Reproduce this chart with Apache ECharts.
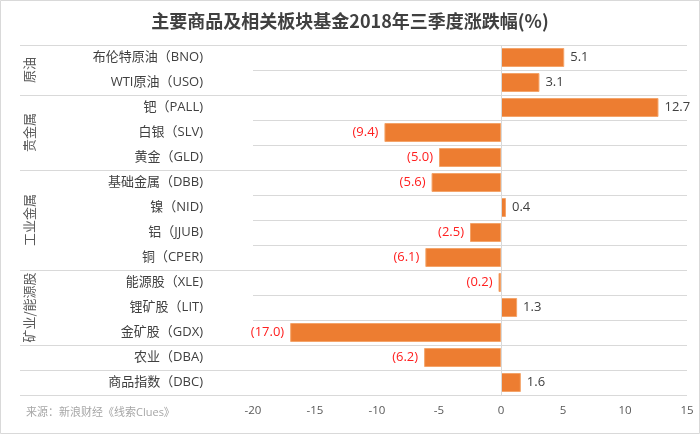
<!DOCTYPE html>
<html>
<head>
<meta charset="utf-8">
<script src="https://cdn.jsdelivr.net/npm/echarts@6/dist/echarts.min.js"></script>
<style>
html,body{margin:0;padding:0;background:#fff;}
#c{width:700px;height:434px;}
</style>
</head>
<body>
<div id="c"></div>
<script>
var titleText = '主要商品及相关板块基金2018年三季度涨跌幅(%)';
var sourceText = '来源：新浪财经《线索Clues》';
var categories = ['布伦特原油（BNO)', 'WTI原油（USO)', '钯（PALL)', '白银（SLV)', '黄金（GLD)',
  '基础金属（DBB)', '镍（NID)', '铝（JJUB)', '铜（CPER)',
  '能源股（XLE)', '锂矿股（LIT)', '金矿股（GDX)', '农业（DBA)', '商品指数（DBC)'];
var values = [5.1, 3.1, 12.7, -9.4, -5.0, -5.6, 0.4, -2.5, -6.1, -0.2, 1.3, -17.0, -6.2, 1.6];
// groups: [label, first index, last index]
var groupNames = ['原油', '贵金属', '工业金属', '矿业/能源股', '', ''];
var groupStart = [0, 2, 5, 9, 12, 13];
var groupEnd = [1, 4, 8, 11, 12, 13];
var xMin = -20, xMax = 15, xInterval = 5;

var FONT = '"Open Sans", "Noto Sans CJK SC", sans-serif';
var chart = echarts.init(document.getElementById('c'));

var barData = values.map(function (v) {
  return {
    value: v,
    label: {
      position: v < 0 ? 'left' : 'right',
      color: v < 0 ? '#ff2020' : '#404040'
    }
  };
});

chart.setOption({
  animation: false,
  backgroundColor: '#fff',
  title: {
    text: titleText,
    left: 'center',
    top: 7,
    textStyle: { fontFamily: '"Noto Sans CJK SC", sans-serif', fontSize: 18, fontWeight: 'bold', color: '#404040' }
  },
  grid: { left: 253, right: 13, top: 45, bottom: 39 },
  xAxis: {
    type: 'value',
    min: xMin, max: xMax, interval: xInterval,
    axisLine: { show: false },
    axisTick: { show: false },
    splitLine: { show: false },
    axisLabel: { color: '#595959', fontSize: 11.5, fontFamily: FONT, margin: 10 }
  },
  yAxis: {
    type: 'category',
    data: categories,
    inverse: true,
    axisLine: { show: false, onZero: false },
    axisTick: { show: false },
    splitLine: { show: true, lineStyle: { color: '#d9d9d9', width: 1 } },
    axisLabel: { color: '#404040', fontSize: 13, fontFamily: FONT, margin: 50 }
  },
  series: [{
    type: 'bar',
    data: barData,
    barCategoryGap: '24%',
    itemStyle: { color: '#ED7D31', borderColor: '#F4A46A', borderWidth: 1 },
    label: {
      show: true,
      fontSize: 13,
      fontFamily: FONT,
      distance: 6,
      formatter: function (p) {
        var v = p.value;
        return v < 0 ? '(' + Math.abs(v).toFixed(1) + ')' : v.toFixed(1);
      }
    },
    markLine: {
      silent: true,
      symbol: 'none',
      label: { show: false },
      lineStyle: { color: '#d9d9d9', type: 'solid', width: 1 },
      data: [{ xAxis: 0 }]
    }
  }]
});

function drawGroups() {
  var c0 = chart.convertToPixel({ yAxisIndex: 0 }, 0);
  var c1 = chart.convertToPixel({ yAxisIndex: 0 }, 1);
  var band = c1 - c0;
  var gridLeft = chart.convertToPixel({ xAxisIndex: 0 }, xMin);
  var els = [];
  function boundary(i) { return chart.convertToPixel({ yAxisIndex: 0 }, i) - band / 2; }
  var ys = [boundary(0)];
  for (var g = 0; g < groupStart.length; g++) {
    ys.push(chart.convertToPixel({ yAxisIndex: 0 }, groupEnd[g]) + band / 2);
  }
  ys.forEach(function (y) {
    els.push({
      type: 'line', silent: true,
      shape: { x1: 20, y1: Math.round(y) + 0.5, x2: gridLeft, y2: Math.round(y) + 0.5 },
      style: { stroke: '#d9d9d9', lineWidth: 1 }
    });
  });
  for (var k = 0; k < groupStart.length; k++) {
    if (!groupNames[k]) continue;
    var yc = (boundary(groupStart[k]) + chart.convertToPixel({ yAxisIndex: 0 }, groupEnd[k]) + band / 2) / 2;
    els.push({
      type: 'text', silent: true,
      x: 29, y: yc, rotation: Math.PI / 2,
      style: {
        text: groupNames[k], fill: '#595959', fontSize: 13,
        fontFamily: '"Noto Sans CJK SC", sans-serif',
        align: 'center', verticalAlign: 'middle'
      }
    });
  }
  els.push({
    type: 'text', silent: true, x: 26, y: 413,
    style: { text: sourceText, fill: '#a6a6a6', fontSize: 11, fontFamily: FONT, verticalAlign: 'middle' }
  });
  els.push({
    type: 'rect', silent: true, z: 100,
    shape: { x: 0.5, y: 0.5, width: 699, height: 433 },
    style: { fill: 'none', stroke: '#d9d9d9', lineWidth: 1 }
  });
  chart.setOption({ graphic: els });
}
drawGroups();
</script>
</body>
</html>
